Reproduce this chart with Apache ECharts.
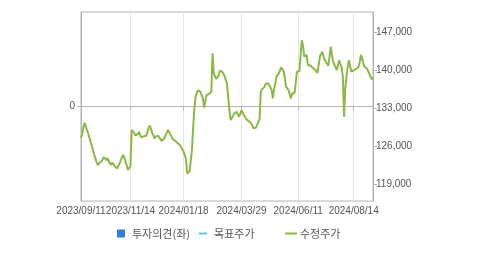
<!DOCTYPE html>
<html>
<head>
<meta charset="utf-8">
<script src="https://cdn.jsdelivr.net/npm/echarts@6/dist/echarts.min.js"></script>
<style>
html,body{margin:0;padding:0;background:#fff;}
#chart{width:479px;height:254px;}
</style>
</head>
<body>
<div id="chart"></div>
<script>
// ---- data ----
var startDate = '2023/09/11';
var endDate = '2024/09/06';
var holidays = ['2023/09/28','2023/09/29','2023/10/02','2023/10/03','2023/10/09','2023/12/25','2023/12/29',
  '2024/01/01','2024/02/09','2024/02/12','2024/03/01','2024/04/10','2024/05/01','2024/05/06','2024/05/15',
  '2024/06/06','2024/08/15'];
var labelDates = ['2023/09/11','2023/11/14','2024/01/18','2024/03/29','2024/06/11','2024/08/14'];
var rightTicks = [119000,126000,133000,140000,147000];
var opinion = [];
var targetPrice = [];
var adjPrice = [
127500,128200,129500,130300,129600,128900,128300,127600,126800,126000,
125200,124400,123700,123000,122500,122900,122700,123200,123600,124000,
123800,123400,123800,123200,122900,122500,123000,122900,122300,122000,
121900,122400,122800,123400,124000,124400,123800,123100,122400,121600,
121900,122300,129000,128800,128500,128000,127700,128200,128600,128100,
127600,127400,127800,127700,127900,128600,129300,129800,129200,128400,
128000,127400,127800,127600,127900,127500,127400,127000,126800,127400,
128000,128400,129000,128600,128200,127800,127300,127100,127000,126800,
126600,126400,126200,125800,125400,125000,124400,123600,121000,121300,
121300,121600,125500,129600,133000,135100,135800,136300,136200,136000,
135900,134800,133100,134200,135400,135200,135600,135700,136000,143100,
139400,138900,138400,138200,139000,139900,140000,139700,139400,138900,
138200,137500,135000,132600,130800,131200,131600,132000,131800,132300,
131800,131400,132000,132600,132200,131700,131400,131000,130800,130600,
130400,130200,129800,129300,129100,129400,129900,130500,131000,136000,
136500,136600,136900,137500,137300,137600,137500,136800,136300,134800,
136500,137600,138800,139100,139400,140000,140500,140100,139700,138400,
136900,136600,136300,135500,134800,135700,135600,135800,135700,139700,
139700,139800,139700,145500,144500,142500,142200,142800,140900,140600,
140900,140700,140400,140500,140100,139800,139500,141000,142500,142800,
143400,142500,141900,141500,141200,140800,140600,144300,142800,141500,
141000,140500,140000,141000,141800,141000,140600,138800,131400,136500,
138800,140500,141800,140800,139700,139800,140000,139900,140200,140400,
140600,141500,142800,142200,141200,140600,140500,140300,139800,139300,
138800,138300,138600
];

// trading-day categories (weekdays minus market holidays)
function fmt(d){
  var m = d.getMonth()+1, day = d.getDate();
  return d.getFullYear()+'/'+(m<10?'0':'')+m+'/'+(day<10?'0':'')+day;
}
var categories = [];
(function(){
  var d = new Date(startDate.replace(/\//g,'-')+'T00:00:00');
  var end = new Date(endDate.replace(/\//g,'-')+'T00:00:00');
  while (d <= end) {
    var wd = d.getDay();
    var s = fmt(d);
    if (wd !== 0 && wd !== 6 && holidays.indexOf(s) < 0) categories.push(s);
    d.setDate(d.getDate()+1);
  }
})();

var isLabel = function(idx, val){ return labelDates.indexOf(val) >= 0; };
var axisFont = 'Liberation Sans';
var cjkFont = 'Noto Sans CJK KR';

var chart = echarts.init(document.getElementById('chart'), null, {renderer:'canvas'});
chart.setOption({
  animation: false,
  backgroundColor: '#fff',
  grid: {left: 81, right: 106, top: 12, bottom: 53, show: true, borderColor: '#b4b4b4', borderWidth: 1, backgroundColor: 'transparent'},
  legend: [
    {
      left: 117, top: 228, padding: 0, itemWidth: 8, itemHeight: 8, itemGap: 9,
      textStyle: {fontFamily: cjkFont, fontSize: 11, color: '#555', padding: [0,0,0,2]},
      data: [
        {name: '투자의견(좌)', icon: 'rect'},
        {name: '목표주가', icon: 'path://M0,0h10v2h-10z'}
      ]
    },
    {
      left: 285, top: 228, padding: 0, itemWidth: 12, itemHeight: 8,
      textStyle: {fontFamily: cjkFont, fontSize: 11, color: '#555', padding: [0,0,0,-2]},
      data: [{name: '수정주가', icon: 'path://M0,0h12v2h-12z'}]
    }
  ],
  xAxis: {
    type: 'category',
    data: categories,
    boundaryGap: false,
    axisLine: {show: true, lineStyle: {color: '#b4b4b4'}},
    axisTick: {show: true, interval: isLabel, length: 4, lineStyle: {color: '#b4b4b4'}},
    axisLabel: {interval: isLabel, fontFamily: axisFont, fontSize: 10, color: '#555', margin: 5},
    splitLine: {show: true, interval: isLabel, lineStyle: {color: '#e6e6e6'}}
  },
  yAxis: [
    {
      type: 'value', position: 'left', min: -1, max: 1,
      axisLine: {show: true, lineStyle: {color: '#b4b4b4'}},
      axisTick: {show: true, customValues: [0], length: 4, lineStyle: {color: '#b4b4b4'}},
      axisLabel: {customValues: [0], fontFamily: axisFont, fontSize: 10, color: '#555', margin: 6},
      splitLine: {show: true, lineStyle: {color: '#e6e6e6'}}
    },
    {
      type: 'value', position: 'right', min: 115900, max: 150700,
      axisLine: {show: true, lineStyle: {color: '#b4b4b4'}},
      axisTick: {show: true, customValues: rightTicks, length: 4, lineStyle: {color: '#b4b4b4'}},
      axisLabel: {customValues: rightTicks, fontFamily: axisFont, fontSize: 10, color: '#555', margin: 3,
        formatter: function(v){ return v.toLocaleString('en-US'); }},
      splitLine: {show: false}
    }
  ],
  series: [
    {name: '투자의견(좌)', type: 'bar', yAxisIndex: 0, data: opinion, itemStyle: {color: '#2f7fd8'}},
    {name: '목표주가', type: 'line', yAxisIndex: 1, data: targetPrice, showSymbol: false, lineStyle: {color: '#35c0d8', width: 2}, itemStyle: {color: '#35c0d8'}},
    {name: '수정주가', type: 'line', yAxisIndex: 1, data: adjPrice, showSymbol: false, symbol: 'none',
      lineStyle: {color: '#8cb845', width: 2}, itemStyle: {color: '#8cb845'}}
  ]
});
</script>
</body>
</html>
